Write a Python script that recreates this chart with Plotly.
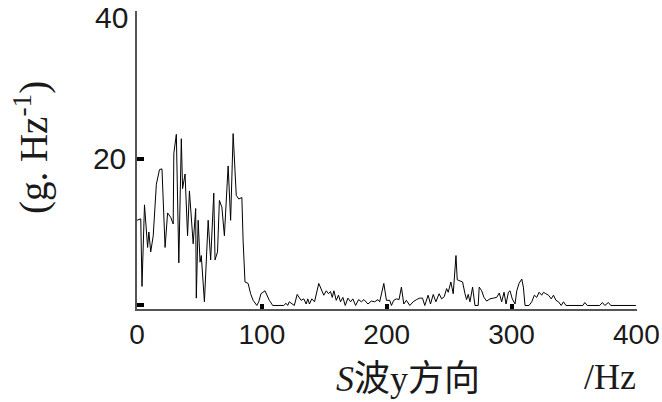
import plotly.graph_objects as go

# Spectrum, 0-100 Hz band
freq_low = [0, 3, 4, 6, 8.5, 9.5, 11, 13, 15.5, 18,
            20, 22.5, 24.5, 27, 29, 29.5, 31.5, 33.5, 35.5, 36.5,
            38.5, 40.5, 42, 44, 45, 47, 47.5, 49, 50.5, 51.5,
            54, 57, 59, 61.5, 62.5, 64.5, 66, 68, 70, 73,
            75, 77, 79.5, 81.5, 84, 85, 86.5, 89, 91, 93,
            96, 97.5]
amp_low = [11.6, 11.8, 2.6, 13.7, 7.9, 10, 7.3, 9.5, 16.5, 18.5,
           18.6, 7.9, 12.6, 12, 11.1, 20.7, 23.3, 5.8, 22.7, 15.9,
           17.9, 9.5, 15.6, 10.2, 8.4, 13.2, 1.0, 11.6, 5.9, 6.8,
           0.5, 11.6, 6.2, 15.3, 6.2, 7.3, 14.3, 13.4, 9.5, 19,
           11.6, 23.4, 15, 14.5, 14.7, 8.8, 3.2, 3.0, 1.6, 0.7,
           0, 0.5]

# Spectrum, 100-400 Hz band
freq_high = [99.3, 102.5, 106, 108.7, 112.7, 117.5, 119.4, 120.7, 122, 123.9,
             126, 128.3, 130, 131.5, 133.6, 135.5, 136.8, 138.1, 140, 142.2,
             145.6, 147.5, 149.6, 151.6, 153.4, 155, 156.4, 157.7, 159.6, 161.4,
             163, 164.9, 166.8, 168.9, 171.1, 172.9, 175.1, 177.5, 179.7, 181.8,
             185, 187.7, 190.4, 193, 194.4, 197.7, 199.8, 202.4, 203.8, 205.6,
             207.8, 209.9, 211.8, 213.7, 215.8, 218.5, 221.2, 223.9, 226.5, 228.7,
             230.5, 233.2, 235.1, 237.3, 239.4, 242, 244, 246.1, 248, 249.3,
             251.4, 253.3, 255.5, 256.5, 258.6, 260.8, 262.7, 264, 265.3, 266.7,
             268.8, 270.7, 273.3, 274.1, 276.1, 277.9, 280.1, 282.7, 285.4, 288.1,
             290.2, 292.1, 294, 295.6, 297.5, 298.8, 300.6, 302.8, 304.2, 306,
             308.2, 309.5, 310.8, 314, 316.2, 318.3, 320.2, 322.1, 324.2, 325.6,
             327.5, 329.6, 331.8, 333.6, 335.6, 337.6, 339.8, 341.6, 343.6, 357.1,
             358.7, 360.7, 370.6, 372.8, 374.7, 377.6, 379.5, 399.6]
amp_high = [1.6, 2.0, 0.7, 0, 0, 0, 0.3, 0, 0.5, 0.2,
            0, 1.5, 1.1, 0.7, 0.9, 0.2, 0.9, 0.2, 0.9, 0.5,
            3.0, 2.3, 1.4, 2.0, 1.6, 1.9, 1.1, 2.0, 0.7, 1.4,
            0.5, 1.1, 0, 1.0, 0.5, 0.9, 0, 0.8, 0.5, 0.8,
            0.2, 0.6, 0.5, 0.8, 0.5, 3.0, 0.7, 0.7, 0, 0.7,
            0.9, 0.8, 2.5, 0.2, 0.7, 0, 0.5, 0.8, 1.0, 1.0,
            0, 1.4, 0.2, 1.5, 0.5, 1.6, 0.9, 1.2, 2.3, 1.8,
            3.2, 1.6, 6.8, 3.5, 3.3, 3.2, 1.6, 0.8, 1.5, 0.5,
            2.5, 0, 0, 2.5, 2.0, 1.1, 0.6, 0.9, 1.0, 1.1,
            1.7, 0.5, 1.8, 0.2, 1.8, 2.0, 0.9, 0.2, 2.0, 3.0,
            3.6, 2.5, 0, 0, 0.5, 1.4, 1.1, 1.8, 1.4, 1.8,
            1.6, 1.4, 0.9, 1.4, 0.7, 0.5, 0, 0.5, 0, 0,
            0.4, 0, 0, 0.4, 0, 0.4, 0, 0]

x_ticks = [0, 100, 200, 300, 400]
x_ticktext = ["0", "100", "200", "300", "400"]
y_ticks = [0, 20, 40]
y_ticktext = ["", "20", "40"]

y_title = "(g. Hz<sup>-1</sup>)"
x_title = "<i>S</i>波y方向"
x_unit = "/Hz"

freq = freq_low + freq_high
amp = amp_low + amp_high

fig = go.Figure()
fig.add_trace(go.Scatter(x=freq, y=amp, mode="lines",
                         line=dict(color="black", width=1), showlegend=False))

sans = "Liberation Sans, Arial, sans-serif"
x_tick_font = dict(family=sans, size=28, color="#1a1a1a")
y_tick_font = dict(family=sans, size=30, color="#1a1a1a")
serif = "Liberation Serif, Times New Roman, Noto Sans CJK SC, serif"

# the top tick label sits just below its tick (it would be clipped at the edge)
y_axis_text = y_ticktext[:-1] + [""]

fig.update_layout(
    width=662, height=402,
    margin=dict(l=137, r=25, t=11, b=93),
    paper_bgcolor="white", plot_bgcolor="white",
    xaxis=dict(range=[0, 400.5], tickvals=x_ticks, ticktext=x_ticktext,
               automargin=False,
               showgrid=False, zeroline=False, showline=True,
               linecolor="#555", linewidth=1.5,
               ticks="inside", ticklen=5, tickwidth=4, tickcolor="black",
               ticklabeloverflow="allow", tickfont=x_tick_font),
    yaxis=dict(range=[-0.48, 40.1], tickvals=y_ticks, ticktext=y_axis_text,
               automargin=False,
               showgrid=False, zeroline=False, showline=True,
               linecolor="#555", linewidth=1.5,
               ticks="inside", ticklen=7, tickwidth=4, tickcolor="black",
               ticklabelstandoff=3,
               ticklabeloverflow="allow", tickfont=y_tick_font),
    annotations=[
        dict(text=y_ticktext[-1], xref="paper", yref="y", x=0, y=y_ticks[-1],
             xanchor="right", yanchor="middle", xshift=-7, yshift=-6,
             showarrow=False, font=y_tick_font),
        dict(text=y_title, xref="paper", yref="paper", x=-0.212, y=0.54,
             xanchor="center", yanchor="middle",
             showarrow=False, textangle=-90,
             font=dict(family=serif, size=39, color="#1a1a1a")),
        dict(text=x_title, xref="paper", yref="paper", x=0.541, y=-0.235,
             xanchor="center", yanchor="middle", showarrow=False,
             font=dict(family=serif, size=36, color="#1a1a1a")),
        dict(text=x_unit, xref="paper", yref="paper", x=0.946, y=-0.228,
             xanchor="center", yanchor="middle", showarrow=False,
             font=dict(family=serif, size=36, color="#1a1a1a")),
    ],
)

fig.write_html("out.html")
